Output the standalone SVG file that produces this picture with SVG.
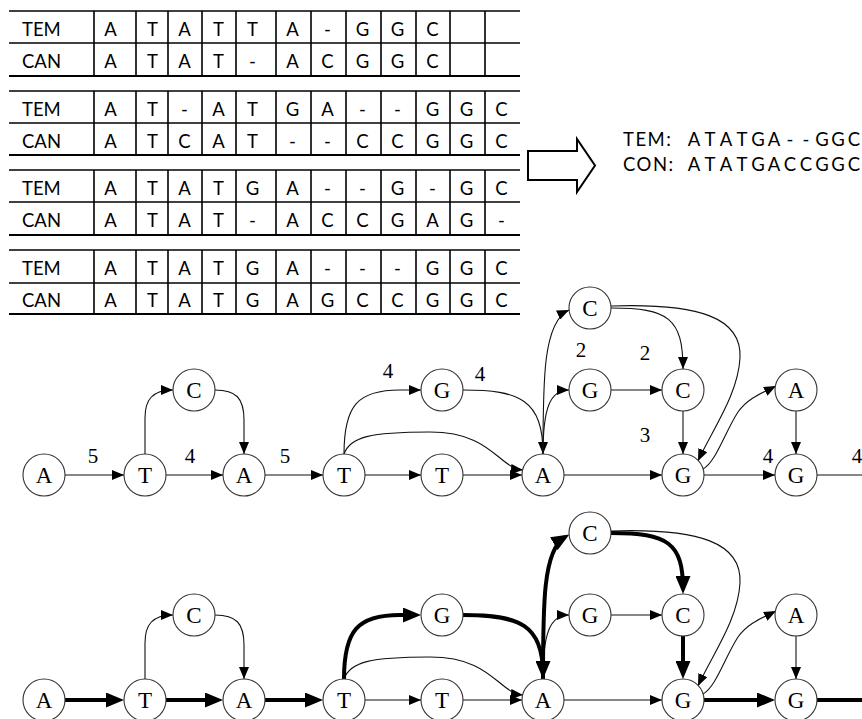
<svg xmlns="http://www.w3.org/2000/svg" width="862" height="719" viewBox="0 0 862 719">
<style>
.hl{stroke:#000;stroke-width:1.6}
.hb{stroke:#000;stroke-width:2.2}
.vl{stroke:#000;stroke-width:1.6}
.tx{font-family:"Lato","Liberation Sans",sans-serif;font-size:18.5px;fill:#000}
.c{text-anchor:middle}
.node circle{fill:#fff;stroke:#333;stroke-width:1.1}
.node text{font-family:"Liberation Serif",serif;font-size:23px;text-anchor:middle;fill:#000}
.e{fill:none;stroke:#111;stroke-width:1.1}
.et{fill:none;stroke:#000;stroke-width:4}
.lbl{font-family:"Liberation Serif",serif;font-size:21px;text-anchor:middle;fill:#000}
</style>
<defs>
<marker id="a" viewBox="0 0 12 10" refX="12" refY="5" markerWidth="12" markerHeight="10" markerUnits="userSpaceOnUse" orient="auto"><path d="M0,0L12,5L0,10z" fill="#000"/></marker>
<marker id="at" viewBox="0 0 18 15" refX="13" refY="7.5" markerWidth="18" markerHeight="15" markerUnits="userSpaceOnUse" orient="auto"><path d="M0,0L18,7.5L0,15z" fill="#000"/></marker>
</defs>

<g id="table">
<line class="hl" x1="9" y1="11" x2="520" y2="11"/>
<line class="hl" x1="9" y1="43" x2="520" y2="43"/>
<line class="hb" x1="9" y1="76" x2="520" y2="76"/>
<line class="hl" x1="9" y1="91" x2="520" y2="91"/>
<line class="hl" x1="9" y1="123" x2="520" y2="123"/>
<line class="hb" x1="9" y1="155" x2="520" y2="155"/>
<line class="hl" x1="9" y1="170" x2="520" y2="170"/>
<line class="hl" x1="9" y1="202" x2="520" y2="202"/>
<line class="hb" x1="9" y1="235" x2="520" y2="235"/>
<line class="hl" x1="9" y1="250" x2="520" y2="250"/>
<line class="hl" x1="9" y1="283" x2="520" y2="283"/>
<line class="hb" x1="9" y1="314" x2="520" y2="314"/>
<path class="vl" d="M94,11V76M136,11V76M168,11V76M202,11V76M236,11V76M276,11V76M311,11V76M346,11V76M381,11V76M416,11V76M450,11V76M485,11V76
M94,91V155M136,91V155M168,91V155M202,91V155M236,91V155M276,91V155M311,91V155M346,91V155M381,91V155M416,91V155M450,91V155M485,91V155
M94,170V235M136,170V235M168,170V235M202,170V235M236,170V235M276,170V235M311,170V235M346,170V235M381,170V235M416,170V235M450,170V235M485,170V235
M94,250V314M136,250V314M168,250V314M202,250V314M236,250V314M276,250V314M311,250V314M346,250V314M381,250V314M416,250V314M450,250V314M485,250V314"/>
<g class="tx">
<text x="22" y="35.5">TEM</text>
<text x="22" y="67.5">CAN</text>
<text x="22" y="115.5">TEM</text>
<text x="22" y="147.5">CAN</text>
<text x="22" y="194.5">TEM</text>
<text x="22" y="226.5">CAN</text>
<text x="22" y="274.5">TEM</text>
<text x="22" y="307">CAN</text>
<g class="c">
<text x="110.5 152.5 184.5 218.5 252.5 292.5 327.5 362.5 397.5 432.5" y="35.5">ATATTA-GGC</text>
<text x="110.5 152.5 184.5 218.5 252.5 292.5 327.5 362.5 397.5 432.5" y="67.5">ATAT-ACGGC</text>
<text x="110.5 152.5 184.5 218.5 252.5 292.5 327.5 362.5 397.5 432.5 466.5 501.5" y="115.5">AT-ATGA--GGC</text>
<text x="110.5 152.5 184.5 218.5 252.5 292.5 327.5 362.5 397.5 432.5 466.5 501.5" y="147.5">ATCAT--CCGGC</text>
<text x="110.5 152.5 184.5 218.5 252.5 292.5 327.5 362.5 397.5 432.5 466.5 501.5" y="194.5">ATATGA--G-GC</text>
<text x="110.5 152.5 184.5 218.5 252.5 292.5 327.5 362.5 397.5 432.5 466.5 501.5" y="226.5">ATAT-ACCGAG-</text>
<text x="110.5 152.5 184.5 218.5 252.5 292.5 327.5 362.5 397.5 432.5 466.5 501.5" y="274.5">ATATGA---GGC</text>
<text x="110.5 152.5 184.5 218.5 252.5 292.5 327.5 362.5 397.5 432.5 466.5 501.5" y="307">ATATGAGCCGGC</text>
</g>
</g>
</g>

<g id="blockarrow">
<polygon points="528,151 577,151 577,139 595,165.5 577,192 577,180 528,180" fill="#fff" stroke="#000" stroke-width="2"/>
</g>

<g id="consensus" class="tx">
<text x="623" y="146" letter-spacing="1.5">TEM:</text>
<text x="623" y="171" letter-spacing="1.5">CON:</text>
<text class="c" x="694 710 726 742 758 774 790 806 822 838 854" y="146">ATATGA--GGC</text>
<text class="c" x="694 710 726 742 758 774 790 806 822 838 854" y="171">ATATGACCGGC</text>
</g>

<g id="graph1">
<g id="connectors1">
<path class="e" d="M65,475L124,475" marker-end="url(#a)"/>
<path class="e" d="M145,454L145,418C145,400 152,390 173,390" marker-end="url(#a)"/>
<path class="e" d="M215,390C236,390 244,398 244,420L244,454" marker-end="url(#a)"/>
<path class="e" d="M166,475L223,475" marker-end="url(#a)"/>
<path class="e" d="M265,475L323,475" marker-end="url(#a)"/>
<path class="e" d="M344,454C344,405 358,390 400,390L421,390" marker-end="url(#a)"/>
<path class="e" d="M344,454C350,437 370,432 430,432C492,432 498,468 523,470" marker-end="url(#a)"/>
<path class="e" d="M365,475L421,475" marker-end="url(#a)"/>
<path class="e" d="M463,475L522,475" marker-end="url(#a)"/>
<path class="e" d="M463,390C520,390 543,400 543,454" marker-end="url(#a)"/>
<path class="e" d="M543,454C543,380 543,322 569,310" marker-end="url(#a)"/>
<path class="e" d="M543,454C543,408 550,390 569,390" marker-end="url(#a)"/>
<path class="e" d="M611,390L662,390" marker-end="url(#a)"/>
<path class="e" d="M611,308C668,308 683,318 683,369" marker-end="url(#a)"/>
<path class="e" d="M611,306C700,303 742,318 740,358C738,395 712,430 698,461" marker-end="url(#a)"/>
<path class="e" d="M683,411L683,454" marker-end="url(#a)"/>
<path class="e" d="M564,475L662,475" marker-end="url(#a)"/>
<path class="e" d="M703,469C716,462 725,432 738,412C748,398 762,393 776,386" marker-end="url(#a)"/>
<path class="e" d="M796,411L796,454" marker-end="url(#a)"/>
<path class="e" d="M704,475L775,475" marker-end="url(#a)"/>
<path class="e" d="M817,475L862,475"/>
</g>
<g id="n1_A1" class="node"><circle cx="44" cy="475" r="21"/><text x="44" y="483">A</text></g>
<g id="n1_T1" class="node"><circle cx="145" cy="475" r="21"/><text x="145" y="483">T</text></g>
<g id="n1_C1" class="node"><circle cx="194" cy="390" r="21"/><text x="194" y="398">C</text></g>
<g id="n1_A2" class="node"><circle cx="244" cy="475" r="21"/><text x="244" y="483">A</text></g>
<g id="n1_T2" class="node"><circle cx="344" cy="475" r="21"/><text x="344" y="483">T</text></g>
<g id="n1_G1" class="node"><circle cx="442" cy="390" r="21"/><text x="442" y="398">G</text></g>
<g id="n1_T3" class="node"><circle cx="442" cy="475" r="21"/><text x="442" y="483">T</text></g>
<g id="n1_A3" class="node"><circle cx="543" cy="475" r="21"/><text x="543" y="483">A</text></g>
<g id="n1_C2" class="node"><circle cx="590" cy="308" r="21"/><text x="590" y="316">C</text></g>
<g id="n1_G2" class="node"><circle cx="590" cy="390" r="21"/><text x="590" y="398">G</text></g>
<g id="n1_C3" class="node"><circle cx="683" cy="390" r="21"/><text x="683" y="398">C</text></g>
<g id="n1_G3" class="node"><circle cx="683" cy="475" r="21"/><text x="683" y="483">G</text></g>
<g id="n1_A4" class="node"><circle cx="796" cy="390" r="21"/><text x="796" y="398">A</text></g>
<g id="n1_G4" class="node"><circle cx="796" cy="475" r="21"/><text x="796" y="483">G</text></g>
<g id="labels1" class="lbl">
<text x="93" y="463">5</text>
<text x="190" y="463">4</text>
<text x="285" y="463">5</text>
<text x="388" y="378">4</text>
<text x="480" y="381">4</text>
<text x="581" y="357">2</text>
<text x="645" y="360">2</text>
<text x="645" y="442">3</text>
<text x="768" y="463">4</text>
<text x="857" y="463">4</text>
</g>
</g>

<g id="graph2" transform="translate(0,225)">
<g id="connectors2">
<path class="e" d="M145,454L145,418C145,400 152,390 173,390" marker-end="url(#a)"/>
<path class="e" d="M215,390C236,390 244,398 244,420L244,454" marker-end="url(#a)"/>
<path class="e" d="M344,454C350,437 370,432 430,432C492,432 498,468 523,470" marker-end="url(#a)"/>
<path class="e" d="M365,475L421,475" marker-end="url(#a)"/>
<path class="e" d="M463,475L522,475" marker-end="url(#a)"/>
<path class="e" d="M543,454C543,408 550,390 569,390" marker-end="url(#a)"/>
<path class="e" d="M611,390L662,390" marker-end="url(#a)"/>
<path class="e" d="M611,306C700,303 742,318 740,358C738,395 712,430 698,461" marker-end="url(#a)"/>
<path class="e" d="M564,475L662,475" marker-end="url(#a)"/>
<path class="e" d="M703,469C716,462 725,432 738,412C748,398 762,393 776,386" marker-end="url(#a)"/>
<path class="e" d="M796,411L796,454" marker-end="url(#a)"/>
<path class="et" d="M65,475L119,475" marker-end="url(#at)"/>
<path class="et" d="M166,475L218,475" marker-end="url(#at)"/>
<path class="et" d="M265,475L318,475" marker-end="url(#at)"/>
<path class="et" d="M344,454C344,405 358,390 400,390L416,390" marker-end="url(#at)"/>
<path class="et" d="M463,390C520,390 543,400 543,449" marker-end="url(#at)"/>
<path class="et" d="M543,454C543,380 543,325 565,312" marker-end="url(#at)"/>
<path class="et" d="M611,308C668,308 683,318 683,364" marker-end="url(#at)"/>
<path class="et" d="M683,411L683,449" marker-end="url(#at)"/>
<path class="et" d="M704,475L770,475" marker-end="url(#at)"/>
<path class="et" d="M817,475L862,475"/>
</g>
<g id="n2_A1" class="node"><circle cx="44" cy="475" r="21"/><text x="44" y="483">A</text></g>
<g id="n2_T1" class="node"><circle cx="145" cy="475" r="21"/><text x="145" y="483">T</text></g>
<g id="n2_C1" class="node"><circle cx="194" cy="390" r="21"/><text x="194" y="398">C</text></g>
<g id="n2_A2" class="node"><circle cx="244" cy="475" r="21"/><text x="244" y="483">A</text></g>
<g id="n2_T2" class="node"><circle cx="344" cy="475" r="21"/><text x="344" y="483">T</text></g>
<g id="n2_G1" class="node"><circle cx="442" cy="390" r="21"/><text x="442" y="398">G</text></g>
<g id="n2_T3" class="node"><circle cx="442" cy="475" r="21"/><text x="442" y="483">T</text></g>
<g id="n2_A3" class="node"><circle cx="543" cy="475" r="21"/><text x="543" y="483">A</text></g>
<g id="n2_C2" class="node"><circle cx="590" cy="308" r="21"/><text x="590" y="316">C</text></g>
<g id="n2_G2" class="node"><circle cx="590" cy="390" r="21"/><text x="590" y="398">G</text></g>
<g id="n2_C3" class="node"><circle cx="683" cy="390" r="21"/><text x="683" y="398">C</text></g>
<g id="n2_G3" class="node"><circle cx="683" cy="475" r="21"/><text x="683" y="483">G</text></g>
<g id="n2_A4" class="node"><circle cx="796" cy="390" r="21"/><text x="796" y="398">A</text></g>
<g id="n2_G4" class="node"><circle cx="796" cy="475" r="21"/><text x="796" y="483">G</text></g>
</g>
</svg>
